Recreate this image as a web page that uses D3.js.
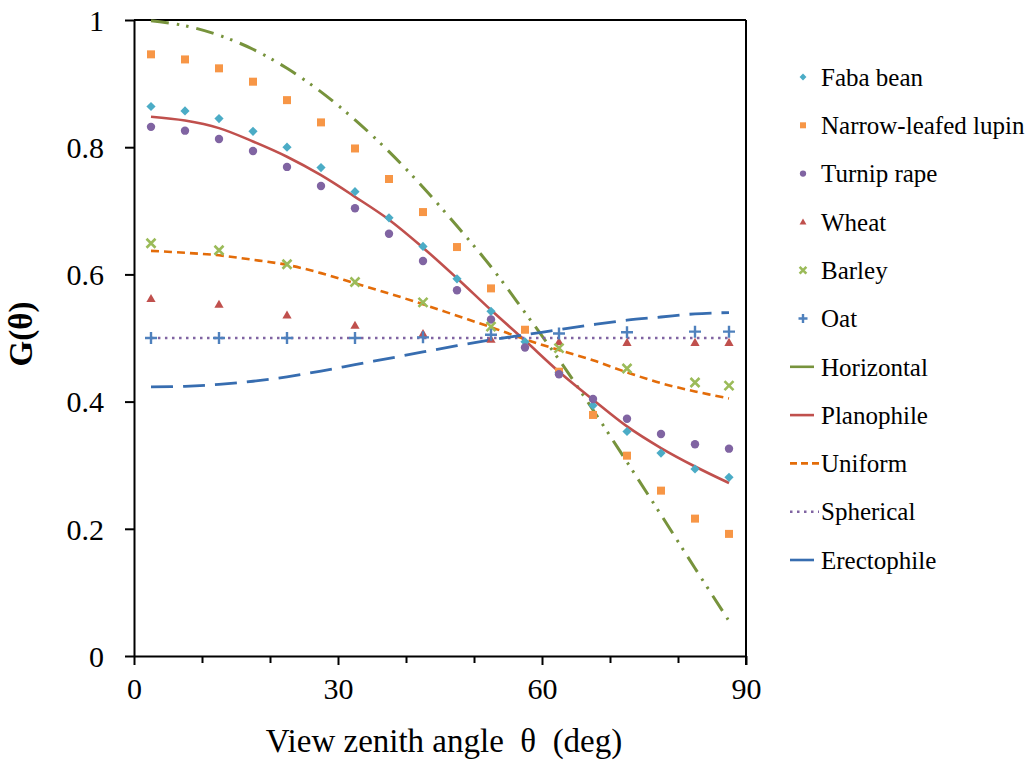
<!DOCTYPE html>
<html>
<head>
<meta charset="utf-8">
<script src="https://cdn.jsdelivr.net/npm/d3@7"></script>
<style>
  body { margin: 0; background: #fff; }
  svg { font-family: "Liberation Serif", "Times New Roman", serif; }
</style>
</head>
<body>
<svg width="1030" height="763"></svg>
<script>
// view zenith angles of the measurements / model samples
const angles = [2.5, 7.5, 12.5, 17.5, 22.5, 27.5, 32.5, 37.5, 42.5, 47.5, 52.5, 57.5, 62.5, 67.5, 72.5, 77.5, 82.5, 87.5];
const anglesSparse = [2.5, 12.5, 22.5, 32.5, 42.5, 52.5, 62.5, 72.5, 82.5, 87.5];

// measured G(theta)
const fabaBean = [0.864, 0.857, 0.845, 0.825, 0.800, 0.768, 0.730, 0.689, 0.644, 0.593, 0.542, 0.494, 0.446, 0.394, 0.353, 0.319, 0.294, 0.281];
const lupin = [0.946, 0.938, 0.924, 0.903, 0.874, 0.839, 0.798, 0.750, 0.698, 0.643, 0.578, 0.513, 0.447, 0.379, 0.315, 0.260, 0.216, 0.192];
const turnipRape = [0.832, 0.826, 0.813, 0.794, 0.769, 0.739, 0.704, 0.664, 0.621, 0.575, 0.529, 0.485, 0.443, 0.404, 0.373, 0.349, 0.333, 0.326];
const wheat = [0.562, 0.553, 0.536, 0.520, 0.507, 0.498, 0.494, 0.493, 0.493, 0.493];
const barley = [0.649, 0.638, 0.616, 0.588, 0.556, 0.518, 0.484, 0.452, 0.430, 0.425];
const oat = [0.500, 0.500, 0.500, 0.500, 0.501, 0.505, 0.507, 0.509, 0.510, 0.510];

// model curves
const horizontal = [0.999, 0.991, 0.976, 0.954, 0.924, 0.887, 0.843, 0.793, 0.737, 0.676, 0.612, 0.540, 0.466, 0.387, 0.305, 0.222, 0.138, 0.055];
const planophile = [0.848, 0.842, 0.830, 0.809, 0.785, 0.756, 0.722, 0.686, 0.642, 0.594, 0.544, 0.496, 0.447, 0.403, 0.361, 0.327, 0.298, 0.272];
const uniform = [0.637, 0.634, 0.630, 0.623, 0.615, 0.602, 0.586, 0.570, 0.553, 0.535, 0.517, 0.498, 0.481, 0.465, 0.446, 0.429, 0.416, 0.405];
const spherical = [0.5, 0.5, 0.5, 0.5, 0.5, 0.5, 0.5, 0.5, 0.5, 0.5, 0.5, 0.5, 0.5, 0.5, 0.5, 0.5, 0.5, 0.5];
const erectophile = [0.423, 0.424, 0.427, 0.432, 0.439, 0.448, 0.458, 0.468, 0.478, 0.488, 0.497, 0.505, 0.513, 0.521, 0.528, 0.533, 0.538, 0.540];

const xTicks = [0, 30, 60, 90];
const xMinorTicks = [10, 20, 40, 50, 70, 80];
const yTicks = [0, 0.2, 0.4, 0.6, 0.8, 1];

const pointSeries = [
    { name: 'Faba bean', x: angles, y: fabaBean, kind: 'diamond', r: 4.6, color: '#4bacc6' },
    { name: 'Narrow-leafed lupin', x: angles, y: lupin, kind: 'square', r: 4, color: '#f79646' },
    { name: 'Turnip rape', x: angles, y: turnipRape, kind: 'circle', r: 4.2, color: '#8064a2' },
    { name: 'Wheat', x: anglesSparse, y: wheat, kind: 'triangle', r: 4.6, color: '#c0504d' },
    { name: 'Barley', x: anglesSparse, y: barley, kind: 'x', r: 4.5, color: '#9bbb59' },
    { name: 'Oat', x: anglesSparse, y: oat, kind: 'plus', r: 6, color: '#4f81bd' },
];

const lineSeries = [
    { name: 'Horizontal', y: horizontal, color: '#77933c', dash: '18,8,2.5,7,2.5,8', legendDash: null, width: 3 },
    { name: 'Planophile', y: planophile, color: '#c0504d', dash: null, legendDash: null, width: 2.6 },
    { name: 'Uniform', y: uniform, color: '#e36c09', dash: '8,5', legendDash: '7,4', width: 2.6 },
    { name: 'Spherical', y: spherical, color: '#8064a2', dash: '2.5,4.5', legendDash: '2.5,4.5', width: 2.6 },
    { name: 'Erectophile', y: erectophile, color: '#376db0', dash: '22,10', legendDash: null, width: 2.8 },
];

const svg = d3.select('svg');

const x = d3.scaleLinear().domain([0, 90]).range([134, 746]);
const y = d3.scaleLinear().domain([0, 1]).range([656, 20]);

// axes
const xAxis = svg
    .append('g')
    .attr('transform', 'translate(0,656)')
    .call(d3.axisBottom(x).tickValues(xTicks).tickSize(9).tickSizeOuter(0).tickPadding(13).tickFormat(d3.format('d')));
svg.append('g')
    .attr('transform', 'translate(0,656)')
    .call(d3.axisBottom(x).tickValues(xMinorTicks).tickSize(7).tickSizeOuter(0).tickFormat(''))
    .select('.domain')
    .remove();
const yAxis = svg
    .append('g')
    .attr('transform', 'translate(134,0)')
    .call(d3.axisLeft(y).tickValues(yTicks).tickSize(9).tickSizeOuter(0).tickPadding(21).tickFormat((d) => (d === 0 || d === 1 ? d3.format('d')(d) : d3.format('.1f')(d))));

svg.selectAll('.tick line, .domain').attr('stroke', '#000').attr('stroke-width', 2);
xAxis.selectAll('text').style('font-size', '30px').style('font-family', '"Liberation Serif", serif').attr('fill', '#000');
yAxis.selectAll('text').style('font-size', '30px').style('font-family', '"Liberation Serif", serif').attr('fill', '#000').attr('dy', '0.34em');

// frame top and right
svg.append('line').attr('x1', x(0)).attr('x2', x(90)).attr('y1', y(1)).attr('y2', y(1)).attr('stroke', '#000').attr('stroke-width', 2);
svg.append('line').attr('x1', x(90)).attr('x2', x(90)).attr('y1', y(1)).attr('y2', y(0) + 9).attr('stroke', '#000').attr('stroke-width', 2);

// axis titles
svg.append('text')
    .attr('x', 444)
    .attr('y', 752)
    .attr('text-anchor', 'middle')
    .style('font-size', '33px')
    .style('white-space', 'pre')
    .text('View zenith angle  θ  (deg)');

svg.append('text')
    .attr('transform', 'translate(32,334) rotate(-90)')
    .attr('text-anchor', 'middle')
    .style('font-size', '33px')
    .style('font-weight', 'bold')
    .text('G(θ)');

// model lines
const line = d3
    .line()
    .x((d) => x(d[0]))
    .y((d) => y(d[1]))
    .curve(d3.curveCatmullRom);

svg.selectAll('path.model')
    .data(lineSeries)
    .enter()
    .append('path')
    .attr('class', 'model')
    .attr('d', (s) => line(angles.map((a, i) => [a, s.y[i]])))
    .attr('fill', 'none')
    .attr('stroke', (s) => s.color)
    .attr('stroke-width', (s) => s.width)
    .attr('stroke-dasharray', (s) => s.dash);

// measured points
function drawMarker(g, kind, color, r, cx, cy) {
    if (kind === 'plus') {
        g.append('path')
            .attr('d', `M${cx - r},${cy}H${cx + r}M${cx},${cy - r}V${cy + r}`)
            .attr('stroke', color)
            .attr('stroke-width', 2.4)
            .attr('fill', 'none');
    } else if (kind === 'x') {
        g.append('path')
            .attr('d', `M${cx - r},${cy - r}L${cx + r},${cy + r}M${cx - r},${cy + r}L${cx + r},${cy - r}`)
            .attr('stroke', color)
            .attr('stroke-width', 2.6)
            .attr('fill', 'none');
    } else if (kind === 'diamond') {
        g.append('path')
            .attr('d', `M${cx},${cy - r}L${cx + r},${cy}L${cx},${cy + r}L${cx - r},${cy}Z`)
            .attr('fill', color);
    } else if (kind === 'square') {
        g.append('rect')
            .attr('x', cx - r)
            .attr('y', cy - r)
            .attr('width', 2 * r)
            .attr('height', 2 * r)
            .attr('fill', color);
    } else if (kind === 'circle') {
        g.append('circle').attr('cx', cx).attr('cy', cy).attr('r', r).attr('fill', color);
    } else {
        g.append('path')
            .attr('d', `M${cx},${cy - r}L${cx + r},${cy + r * 0.75}L${cx - r},${cy + r * 0.75}Z`)
            .attr('fill', color);
    }
}

pointSeries.forEach((s) => {
    const g = svg.append('g');
    s.x.forEach((a, i) => drawMarker(g, s.kind, s.color, s.r, x(a), y(s.y[i])));
});

// legend
const legendX = 803;
const legendY0 = 77;
const legendStep = 48.3;

pointSeries.forEach((s, i) => {
    const ly = legendY0 + i * legendStep;
    const g = svg.append('g');
    drawMarker(g, s.kind, s.color, s.r * 0.75, legendX, ly);
    g.append('text')
        .attr('x', 821)
        .attr('y', ly)
        .attr('dy', '0.35em')
        .style('font-size', '25px')
        .text(s.name);
});

lineSeries.forEach((s, i) => {
    const ly = legendY0 + (pointSeries.length + i) * legendStep;
    svg.append('line')
        .attr('x1', 790)
        .attr('x2', s.legendDash ? 819 : 814)
        .attr('y1', ly)
        .attr('y2', ly)
        .attr('stroke', s.color)
        .attr('stroke-width', 2.6)
        .attr('stroke-dasharray', s.legendDash);
    svg.append('text')
        .attr('x', 821)
        .attr('y', ly)
        .attr('dy', '0.35em')
        .style('font-size', '25px')
        .text(s.name);
});
</script>
</body>
</html>
